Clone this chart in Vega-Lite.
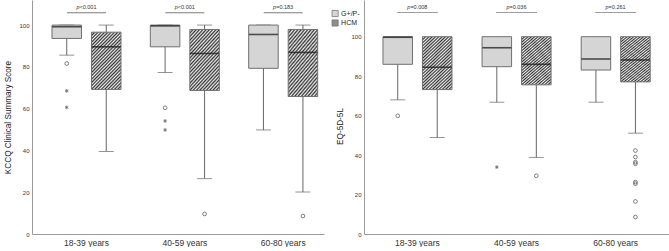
{
  "$schema": "https://vega.github.io/schema/vega-lite/v6.json",
  "padding": {"left": 3, "top": 0, "right": 0, "bottom": 0},
  "spacing": 7,
  "config": {
    "font": "Liberation Sans",
    "view": {"stroke": null},
    "axis": {"grid": false, "ticks": false, "domainColor": "#9a9a9a", "labelColor": "#333333", "titleColor": "#222222", "labelFont": "Liberation Sans", "titleFont": "Liberation Sans", "titleFontWeight": "normal"},
    "axisY": {"labelFontSize": 6, "labelPadding": 3, "titleFontSize": 8.2, "titlePadding": 6, "values": [0, 20, 40, 60, 80, 100]},
    "axisX": {"labelFontSize": 8.5, "labelPadding": 4, "labelAngle": 0, "title": null},
    "legend": {"symbolType": "square", "symbolSize": 38, "symbolStrokeColor": "#777777", "symbolStrokeWidth": 0.8, "labelFontSize": 7, "labelColor": "#222222", "labelFont": "Liberation Sans", "rowPadding": -1.5, "padding": 0, "labelOffset": 2.5}
  },
  "datasets": {
    "kccq": [
      {"group": "18-39 years", "sub": "G+/P-", "lo": 85.6, "q1": 93.6, "med": 99.2, "q3": 100, "hi": 100},
      {"group": "18-39 years", "sub": "HCM", "lo": 39.5, "q1": 69.2, "med": 89.6, "q3": 96.6, "hi": 100},
      {"group": "40-59 years", "sub": "G+/P-", "lo": 77.3, "q1": 89.6, "med": 99.6, "q3": 100, "hi": 100},
      {"group": "40-59 years", "sub": "HCM", "lo": 26.5, "q1": 68.7, "med": 86.4, "q3": 97.9, "hi": 100},
      {"group": "60-80 years", "sub": "G+/P-", "lo": 49.8, "q1": 79.3, "med": 95.5, "q3": 100, "hi": 100},
      {"group": "60-80 years", "sub": "HCM", "lo": 20.1, "q1": 65.8, "med": 86.9, "q3": 97.9, "hi": 100}
    ],
    "kccq_out": [
      {"group": "18-39 years", "sub": "G+/P-", "v": 81.6, "kind": "circle"},
      {"group": "18-39 years", "sub": "G+/P-", "v": 68.5, "kind": "star"},
      {"group": "18-39 years", "sub": "G+/P-", "v": 60.6, "kind": "star"},
      {"group": "40-59 years", "sub": "G+/P-", "v": 60.4, "kind": "circle"},
      {"group": "40-59 years", "sub": "G+/P-", "v": 54.1, "kind": "star"},
      {"group": "40-59 years", "sub": "G+/P-", "v": 49.8, "kind": "star"},
      {"group": "40-59 years", "sub": "HCM", "v": 9.6, "kind": "circle"},
      {"group": "60-80 years", "sub": "HCM", "v": 8.6, "kind": "circle"}
    ],
    "kccq_p": [
      {"group": "18-39 years", "op": "<0.001"},
      {"group": "40-59 years", "op": "<0.001"},
      {"group": "60-80 years", "op": "=0.183"}
    ],
    "eq": [
      {"group": "18-39 years", "sub": "G+/P-", "lo": 68.0, "q1": 86.0, "med": 99.7, "q3": 100, "hi": 100},
      {"group": "18-39 years", "sub": "HCM", "lo": 48.9, "q1": 73.2, "med": 84.5, "q3": 100, "hi": 100},
      {"group": "40-59 years", "sub": "G+/P-", "lo": 66.8, "q1": 84.8, "med": 94.4, "q3": 100, "hi": 100},
      {"group": "40-59 years", "sub": "HCM", "lo": 38.8, "q1": 75.6, "med": 86.0, "q3": 100, "hi": 100},
      {"group": "60-80 years", "sub": "G+/P-", "lo": 66.8, "q1": 83.1, "med": 88.7, "q3": 100, "hi": 100},
      {"group": "60-80 years", "sub": "HCM", "lo": 51.1, "q1": 77.1, "med": 88.2, "q3": 100, "hi": 100}
    ],
    "eq_out": [
      {"group": "18-39 years", "sub": "G+/P-", "v": 59.9, "kind": "circle"},
      {"group": "40-59 years", "sub": "G+/P-", "v": 33.9, "kind": "star"},
      {"group": "40-59 years", "sub": "HCM", "v": 29.5, "kind": "circle"},
      {"group": "60-80 years", "sub": "HCM", "v": 42.3, "kind": "circle"},
      {"group": "60-80 years", "sub": "HCM", "v": 39.0, "kind": "circle"},
      {"group": "60-80 years", "sub": "HCM", "v": 36.4, "kind": "circle"},
      {"group": "60-80 years", "sub": "HCM", "v": 35.6, "kind": "circle"},
      {"group": "60-80 years", "sub": "HCM", "v": 26.3, "kind": "circle"},
      {"group": "60-80 years", "sub": "HCM", "v": 25.5, "kind": "circle"},
      {"group": "60-80 years", "sub": "HCM", "v": 16.5, "kind": "circle"},
      {"group": "60-80 years", "sub": "HCM", "v": 8.6, "kind": "circle"}
    ],
    "eq_p": [
      {"group": "18-39 years", "op": "=0.008"},
      {"group": "40-59 years", "op": "=0.036"},
      {"group": "60-80 years", "op": "=0.261"}
    ]
  },
  "resolve": {"scale": {"fill": "independent"}, "legend": {"fill": "independent"}},
  "hconcat": [
    {
      "width": 292,
      "height": 234,
      "layer": [
        {
          "data": {"name": "kccq"},
          "mark": {"type": "rule", "color": "#666666", "strokeWidth": 1},
          "encoding": {
            "x": {"field": "group", "type": "nominal", "scale": {"domain": ["18-39 years", "40-59 years", "60-80 years"], "paddingInner": 0.2984, "paddingOuter": 0.1337, "align": 0.76}, "axis": {"title": null}},
            "xOffset": {"field": "sub", "type": "nominal", "scale": {"domain": ["G+/P-", "HCM"], "paddingInner": 0.253, "paddingOuter": 0}},
            "y": {"field": "lo", "type": "quantitative", "title": "KCCQ Clinical Summary Score", "scale": {"domain": [0, 112], "nice": false, "zero": false}},
            "y2": {"field": "hi"}
          }
        },
        {
          "data": {"name": "kccq"},
          "mark": {"type": "tick", "color": "#666666", "size": 15, "thickness": 1},
          "encoding": {
            "x": {"field": "group", "type": "nominal"},
            "xOffset": {"field": "sub", "type": "nominal"},
            "y": {"field": "lo", "type": "quantitative", "title": "KCCQ Clinical Summary Score"}
          }
        },
        {
          "data": {"name": "kccq"},
          "mark": {"type": "tick", "color": "#666666", "size": 15, "thickness": 1},
          "encoding": {
            "x": {"field": "group", "type": "nominal"},
            "xOffset": {"field": "sub", "type": "nominal"},
            "y": {"field": "hi", "type": "quantitative", "title": "KCCQ Clinical Summary Score"}
          }
        },
        {
          "data": {"name": "kccq"},
          "mark": {"type": "bar", "stroke": "#707070", "strokeWidth": 1},
          "encoding": {
            "x": {"field": "group", "type": "nominal"},
            "xOffset": {"field": "sub", "type": "nominal"},
            "y": {"field": "q1", "type": "quantitative", "title": "KCCQ Clinical Summary Score"},
            "y2": {"field": "q3"},
            "fill": {
              "condition": {"test": "datum.sub === 'HCM'", "value": {"gradient": "linear", "x1": 0, "y1": 0, "x2": 0.629, "y2": 1.195, "stops": [
                {"offset": 0, "color": "#333333"}, {"offset": 0.0192, "color": "#eeeeee"},
                {"offset": 0.0385, "color": "#333333"}, {"offset": 0.0577, "color": "#eeeeee"},
                {"offset": 0.0769, "color": "#333333"}, {"offset": 0.0962, "color": "#eeeeee"},
                {"offset": 0.1154, "color": "#333333"}, {"offset": 0.1346, "color": "#eeeeee"},
                {"offset": 0.1538, "color": "#333333"}, {"offset": 0.1731, "color": "#eeeeee"},
                {"offset": 0.1923, "color": "#333333"}, {"offset": 0.2115, "color": "#eeeeee"},
                {"offset": 0.2308, "color": "#333333"}, {"offset": 0.25, "color": "#eeeeee"},
                {"offset": 0.2692, "color": "#333333"}, {"offset": 0.2885, "color": "#eeeeee"},
                {"offset": 0.3077, "color": "#333333"}, {"offset": 0.3269, "color": "#eeeeee"},
                {"offset": 0.3462, "color": "#333333"}, {"offset": 0.3654, "color": "#eeeeee"},
                {"offset": 0.3846, "color": "#333333"}, {"offset": 0.4038, "color": "#eeeeee"},
                {"offset": 0.4231, "color": "#333333"}, {"offset": 0.4423, "color": "#eeeeee"},
                {"offset": 0.4615, "color": "#333333"}, {"offset": 0.4808, "color": "#eeeeee"},
                {"offset": 0.5, "color": "#333333"}, {"offset": 0.5192, "color": "#eeeeee"},
                {"offset": 0.5385, "color": "#333333"}, {"offset": 0.5577, "color": "#eeeeee"},
                {"offset": 0.5769, "color": "#333333"}, {"offset": 0.5962, "color": "#eeeeee"},
                {"offset": 0.6154, "color": "#333333"}, {"offset": 0.6346, "color": "#eeeeee"},
                {"offset": 0.6538, "color": "#333333"}, {"offset": 0.6731, "color": "#eeeeee"},
                {"offset": 0.6923, "color": "#333333"}, {"offset": 0.7115, "color": "#eeeeee"},
                {"offset": 0.7308, "color": "#333333"}, {"offset": 0.75, "color": "#eeeeee"},
                {"offset": 0.7692, "color": "#333333"}, {"offset": 0.7885, "color": "#eeeeee"},
                {"offset": 0.8077, "color": "#333333"}, {"offset": 0.8269, "color": "#eeeeee"},
                {"offset": 0.8462, "color": "#333333"}, {"offset": 0.8654, "color": "#eeeeee"},
                {"offset": 0.8846, "color": "#333333"}, {"offset": 0.9038, "color": "#eeeeee"},
                {"offset": 0.9231, "color": "#333333"}, {"offset": 0.9423, "color": "#eeeeee"},
                {"offset": 0.9615, "color": "#333333"}, {"offset": 0.9808, "color": "#eeeeee"},
                {"offset": 1, "color": "#333333"}
              ]}},
              "field": "sub", "type": "nominal", "scale": {"domain": ["G+/P-", "HCM"], "range": ["#d5d5d5", "#8c8c8c"]}, "legend": null}
          }
        },
        {
          "data": {"name": "kccq"},
          "mark": {"type": "tick", "color": "#111111", "size": 29, "thickness": 1.6},
          "encoding": {
            "x": {"field": "group", "type": "nominal"},
            "xOffset": {"field": "sub", "type": "nominal"},
            "y": {"field": "med", "type": "quantitative", "title": "KCCQ Clinical Summary Score"}
          }
        },
        {
          "data": {"name": "kccq_out"},
          "mark": {"type": "point", "filled": false, "stroke": "#333333", "strokeWidth": 0.9, "size": 14},
          "encoding": {
            "x": {"field": "group", "type": "nominal"},
            "xOffset": {"field": "sub", "type": "nominal"},
            "y": {"field": "v", "type": "quantitative", "title": "KCCQ Clinical Summary Score"},
            "shape": {"field": "kind", "type": "nominal", "scale": {"domain": ["circle", "star"], "range": ["circle", "M0,-1L0,1M-0.87,-0.5L0.87,0.5M-0.87,0.5L0.87,-0.5"]}, "legend": null}
          }
        },
        {
          "data": {"name": "kccq_p"},
          "mark": {"type": "text", "fontSize": 5.5, "fontStyle": "italic", "color": "#333333", "baseline": "middle", "align": "right", "dx": -7},
          "encoding": {
            "x": {"field": "group", "type": "nominal"},
            "y": {"datum": 108.8, "type": "quantitative"},
            "text": {"value": "p"}
          }
        },
        {
          "data": {"name": "kccq_p"},
          "mark": {"type": "text", "fontSize": 5.5, "color": "#333333", "baseline": "middle", "align": "left", "dx": -7},
          "encoding": {
            "x": {"field": "group", "type": "nominal"},
            "y": {"datum": 108.8, "type": "quantitative"},
            "text": {"field": "op"}
          }
        },
        {
          "data": {"name": "kccq_p"},
          "mark": {"type": "tick", "color": "#444444", "size": 39, "thickness": 0.8},
          "encoding": {
            "x": {"field": "group", "type": "nominal"},
            "y": {"datum": 105.9, "type": "quantitative"}
          }
        }
      ]
    },
    {
      "width": 306.6,
      "height": 234,
      "layer": [
        {
          "data": {"name": "eq"},
          "mark": {"type": "rule", "color": "#666666", "strokeWidth": 1},
          "encoding": {
            "x": {"field": "group", "type": "nominal", "scale": {"domain": ["18-39 years", "40-59 years", "60-80 years"], "paddingInner": 0.305, "paddingOuter": 0.1994, "align": 0.48}, "axis": {"title": null}},
            "xOffset": {"field": "sub", "type": "nominal", "scale": {"domain": ["G+/P-", "HCM"], "paddingInner": 0.253, "paddingOuter": 0}},
            "y": {"field": "lo", "type": "quantitative", "title": "EQ-5D-5L", "scale": {"domain": [0, 118.6], "nice": false, "zero": false}, "axis": {"titleY": 126}},
            "y2": {"field": "hi"}
          }
        },
        {
          "data": {"name": "eq"},
          "mark": {"type": "tick", "color": "#666666", "size": 15, "thickness": 1},
          "encoding": {
            "x": {"field": "group", "type": "nominal"},
            "xOffset": {"field": "sub", "type": "nominal"},
            "y": {"field": "lo", "type": "quantitative", "title": "EQ-5D-5L"}
          }
        },
        {
          "data": {"name": "eq"},
          "mark": {"type": "bar", "stroke": "#707070", "strokeWidth": 1},
          "encoding": {
            "x": {"field": "group", "type": "nominal"},
            "xOffset": {"field": "sub", "type": "nominal"},
            "y": {"field": "q1", "type": "quantitative", "title": "EQ-5D-5L"},
            "y2": {"field": "q3"},
            "fill": {
              "condition": {"test": "datum.sub === 'HCM'", "value": {"gradient": "linear", "x1": 0, "y1": 0, "x2": 0.629, "y2": 1.195, "stops": [
                {"offset": 0, "color": "#333333"}, {"offset": 0.0192, "color": "#eeeeee"},
                {"offset": 0.0385, "color": "#333333"}, {"offset": 0.0577, "color": "#eeeeee"},
                {"offset": 0.0769, "color": "#333333"}, {"offset": 0.0962, "color": "#eeeeee"},
                {"offset": 0.1154, "color": "#333333"}, {"offset": 0.1346, "color": "#eeeeee"},
                {"offset": 0.1538, "color": "#333333"}, {"offset": 0.1731, "color": "#eeeeee"},
                {"offset": 0.1923, "color": "#333333"}, {"offset": 0.2115, "color": "#eeeeee"},
                {"offset": 0.2308, "color": "#333333"}, {"offset": 0.25, "color": "#eeeeee"},
                {"offset": 0.2692, "color": "#333333"}, {"offset": 0.2885, "color": "#eeeeee"},
                {"offset": 0.3077, "color": "#333333"}, {"offset": 0.3269, "color": "#eeeeee"},
                {"offset": 0.3462, "color": "#333333"}, {"offset": 0.3654, "color": "#eeeeee"},
                {"offset": 0.3846, "color": "#333333"}, {"offset": 0.4038, "color": "#eeeeee"},
                {"offset": 0.4231, "color": "#333333"}, {"offset": 0.4423, "color": "#eeeeee"},
                {"offset": 0.4615, "color": "#333333"}, {"offset": 0.4808, "color": "#eeeeee"},
                {"offset": 0.5, "color": "#333333"}, {"offset": 0.5192, "color": "#eeeeee"},
                {"offset": 0.5385, "color": "#333333"}, {"offset": 0.5577, "color": "#eeeeee"},
                {"offset": 0.5769, "color": "#333333"}, {"offset": 0.5962, "color": "#eeeeee"},
                {"offset": 0.6154, "color": "#333333"}, {"offset": 0.6346, "color": "#eeeeee"},
                {"offset": 0.6538, "color": "#333333"}, {"offset": 0.6731, "color": "#eeeeee"},
                {"offset": 0.6923, "color": "#333333"}, {"offset": 0.7115, "color": "#eeeeee"},
                {"offset": 0.7308, "color": "#333333"}, {"offset": 0.75, "color": "#eeeeee"},
                {"offset": 0.7692, "color": "#333333"}, {"offset": 0.7885, "color": "#eeeeee"},
                {"offset": 0.8077, "color": "#333333"}, {"offset": 0.8269, "color": "#eeeeee"},
                {"offset": 0.8462, "color": "#333333"}, {"offset": 0.8654, "color": "#eeeeee"},
                {"offset": 0.8846, "color": "#333333"}, {"offset": 0.9038, "color": "#eeeeee"},
                {"offset": 0.9231, "color": "#333333"}, {"offset": 0.9423, "color": "#eeeeee"},
                {"offset": 0.9615, "color": "#333333"}, {"offset": 0.9808, "color": "#eeeeee"},
                {"offset": 1, "color": "#333333"}
              ]}},
              "field": "sub", "type": "nominal", "scale": {"domain": ["G+/P-", "HCM"], "range": ["#d5d5d5", "#8c8c8c"]}, "legend": {"orient": "none", "legendX": -32.4, "legendY": 10, "title": null}}
          }
        },
        {
          "data": {"name": "eq"},
          "mark": {"type": "tick", "color": "#111111", "size": 29, "thickness": 1.6},
          "encoding": {
            "x": {"field": "group", "type": "nominal"},
            "xOffset": {"field": "sub", "type": "nominal"},
            "y": {"field": "med", "type": "quantitative", "title": "EQ-5D-5L"}
          }
        },
        {
          "data": {"name": "eq_out"},
          "mark": {"type": "point", "filled": false, "stroke": "#333333", "strokeWidth": 0.9, "size": 14},
          "encoding": {
            "x": {"field": "group", "type": "nominal"},
            "xOffset": {"field": "sub", "type": "nominal"},
            "y": {"field": "v", "type": "quantitative", "title": "EQ-5D-5L"},
            "shape": {"field": "kind", "type": "nominal", "scale": {"domain": ["circle", "star"], "range": ["circle", "M0,-1L0,1M-0.87,-0.5L0.87,0.5M-0.87,0.5L0.87,-0.5"]}, "legend": null}
          }
        },
        {
          "data": {"name": "eq_p"},
          "mark": {"type": "text", "fontSize": 5.5, "fontStyle": "italic", "color": "#333333", "baseline": "middle", "align": "right", "dx": -7},
          "encoding": {
            "x": {"field": "group", "type": "nominal"},
            "y": {"datum": 115, "type": "quantitative"},
            "text": {"value": "p"}
          }
        },
        {
          "data": {"name": "eq_p"},
          "mark": {"type": "text", "fontSize": 5.5, "color": "#333333", "baseline": "middle", "align": "left", "dx": -7},
          "encoding": {
            "x": {"field": "group", "type": "nominal"},
            "y": {"datum": 115, "type": "quantitative"},
            "text": {"field": "op"}
          }
        },
        {
          "data": {"name": "eq_p"},
          "mark": {"type": "tick", "color": "#444444", "size": 41, "thickness": 0.8},
          "encoding": {
            "x": {"field": "group", "type": "nominal"},
            "y": {"datum": 112.2, "type": "quantitative"}
          }
        }
      ]
    }
  ]
}
